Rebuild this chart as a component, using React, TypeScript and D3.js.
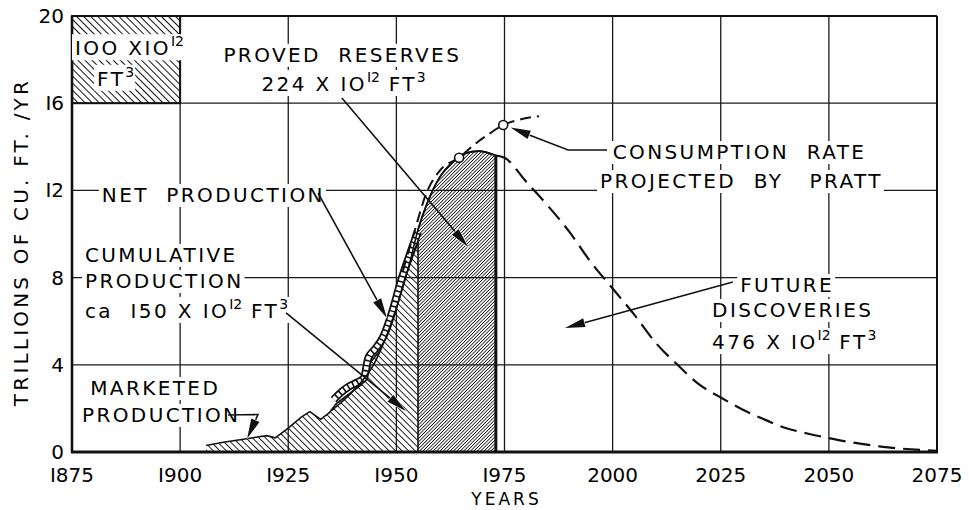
import React, { useEffect, useRef } from 'react'
import * as d3 from 'd3'

const yearTicks = [1875, 1900, 1925, 1950, 1975, 2000, 2025, 2050, 2075]
const rateTicks = [0, 4, 8, 12, 16, 20]

// marketed production (hatched area, jagged hand drawn outline)
const marketedYears = [1906, 1910, 1915, 1920, 1922, 1925, 1928, 1930, 1932.5, 1934.5, 1936, 1938, 1940, 1942, 1944, 1946, 1948, 1950, 1952, 1954, 1955]
const marketedRates = [0.3, 0.45, 0.6, 0.75, 0.65, 1.1, 1.6, 1.85, 1.5, 1.8, 2.2, 2.5, 2.8, 3.1, 4.1, 4.6, 5.6, 6.8, 8.0, 9.1, 9.6]

// net production (the scalloped "tube")
const netYears = [1935.5, 1937, 1939, 1941, 1942.5, 1943.5, 1945, 1947, 1949, 1951, 1953, 1955]
const netRates = [2.4, 2.7, 3.0, 3.2, 3.4, 4.3, 4.7, 5.3, 6.4, 7.8, 9.0, 10.1]

// complete cycle curve
const cycleYears = [1935, 1940, 1945, 1950, 1953, 1955, 1957.5, 1960, 1963, 1966, 1969, 1973, 1975, 1980, 1985, 1990, 1995, 2000, 2005, 2010, 2015, 2020, 2025, 2030, 2035, 2040, 2045, 2050, 2055, 2062, 2075]
const cycleRates = [1.9, 2.8, 4.1, 6.6, 8.6, 10.2, 11.6, 12.6, 13.3, 13.7, 13.8, 13.6, 13.5, 12.4, 11.3, 10.1, 8.7, 7.5, 6.3, 5.0, 4.0, 3.1, 2.5, 1.95, 1.5, 1.1, 0.85, 0.64, 0.45, 0.25, 0.05]
const provedYears = [1955, 1973]

// consumption rate projected by Pratt
const prattYears = [1951.5, 1954, 1957, 1960, 1964.5, 1968, 1971.5, 1974.7, 1978.5, 1983]
const prattRates = [8.3, 10.0, 11.9, 12.9, 13.5, 14.1, 14.6, 15.0, 15.25, 15.4]
const prattPointYears = [1964.5, 1974.7]
const prattPointRates = [13.5, 15.0]

// early-period box
const boxYears = [1875, 1900]
const boxRates = [16, 20]

// text lines: [year, rate, anchor, parts] ; '^' marks a superscript
const labels = [
    [1875.7, 18.2, 'start', ['IOO XIO', '^I2']],
    [1880.8, 16.8, 'start', ['FT', '^3']],
    [1937.5, 17.9, 'middle', ['PROVED  RESERVES']],
    [1937.8, 16.56, 'middle', ['224 X IO', '^I2', ' FT', '^3']],
    [1881.9, 11.47, 'start', ['NET  PRODUCTION']],
    [1878, 8.72, 'start', ['CUMULATIVE']],
    [1878, 7.52, 'start', ['PRODUCTION']],
    [1878, 6.15, 'start', ['ca  I50 X IO', '^I2', ' FT', '^3']],
    [1879.2, 2.61, 'start', ['MARKETED']],
    [1877.3, 1.38, 'start', ['PRODUCTION']],
    [2000, 13.44, 'start', ['CONSUMPTION  RATE']],
    [1997.1, 12.11, 'start', ['PROJECTED  BY   PRATT']],
    [2029.5, 7.34, 'start', ['FUTURE']],
    [2023, 6.19, 'start', ['DISCOVERIES']],
    [2023, 4.72, 'start', ['476 X IO', '^I2', ' FT', '^3']],
]

// leader lines, last point is the arrow tip
const arrows = [
    [[1937.4, 16.24], [1966.6, 9.4]],
    [[1931.9, 11.88], [1947.8, 6.15]],
    [[1924.5, 6.38], [1952.2, 1.88]],
    [[1911.1, 1.7], [1918, 1.72], [1915.5, 0.62]],
    [[1998.7, 13.85], [1989.7, 13.85], [1976.4, 14.88]],
    [[2027.8, 7.8], [1989.0, 5.69]],
]

const W = 969
const H = 510
const FONT = 'DejaVu Sans, sans-serif'

const App = () => {
    const Chart = useRef()

    useEffect(() => {
        const svg = d3.select(Chart.current)
        svg.selectAll('*').remove()

        const x = d3.scaleLinear().domain([1875, 2075]).range([72, 937])
        const y = d3.scaleLinear().domain([0, 20]).range([452, 16])

        const defs = svg.append('defs')
        const hatch = (id, size, width, angle) => {
            const p = defs.append('pattern')
                .attr('id', id)
                .attr('patternUnits', 'userSpaceOnUse')
                .attr('width', size)
                .attr('height', 20)
                .attr('patternTransform', `rotate(${angle})`)
            p.append('line')
                .attr('x1', size / 2).attr('x2', size / 2)
                .attr('y1', 0).attr('y2', 20)
                .attr('stroke', '#111')
                .attr('stroke-width', width)
                .attr('shape-rendering', 'crispEdges')
        }
        hatch('back', 4.6, 1.5, -45)
        hatch('box', 5, 1.4, -45)
        hatch('fwd', 2.4, 1.0, 45)

        // grid
        const grid = svg.append('g').attr('stroke', '#1a1a1a').attr('stroke-width', 1.3)
        grid.selectAll('.v')
            .data(yearTicks.slice(1, -1))
            .join('line')
            .attr('x1', d => x(d)).attr('x2', d => x(d))
            .attr('y1', y(0)).attr('y2', y(20))
        grid.selectAll('.h')
            .data(rateTicks.slice(1, -1))
            .join('line')
            .attr('y1', d => y(d)).attr('y2', d => y(d))
            .attr('x1', x(1875)).attr('x2', x(2075))

        // early box
        svg.append('rect')
            .attr('x', x(boxYears[0]))
            .attr('y', y(boxRates[1]))
            .attr('width', x(boxYears[1]) - x(boxYears[0]))
            .attr('height', y(boxRates[0]) - y(boxRates[1]))
            .attr('fill', 'url(#box)')
            .attr('stroke', '#111')
            .attr('stroke-width', 2)

        // marketed production area
        const marketed = marketedYears.map((d, i) => [d, marketedRates[i]])
        const area = d3.area().x(d => x(d[0])).y0(y(0)).y1(d => y(d[1]))
        svg.append('path')
            .attr('d', area(marketed))
            .attr('fill', 'url(#back)')
        svg.append('path')
            .attr('d', d3.line().x(d => x(d[0])).y(d => y(d[1]))(marketed))
            .attr('fill', 'none')
            .attr('stroke', '#111')
            .attr('stroke-width', 1.6)

        // proved reserves area
        const cycle = cycleYears.map((d, i) => [d, cycleRates[i]])
        const proved = cycle.filter(d => d[0] >= provedYears[0] && d[0] <= provedYears[1])
        const smoothArea = d3.area().x(d => x(d[0])).y0(y(0)).y1(d => y(d[1])).curve(d3.curveMonotoneX)
        svg.append('path')
            .attr('d', smoothArea(proved))
            .attr('fill', 'url(#fwd)')
            .attr('stroke', '#111')
            .attr('stroke-width', 1.6)
        svg.append('line')
            .attr('x1', x(provedYears[1])).attr('x2', x(provedYears[1]))
            .attr('y1', y(0)).attr('y2', y(proved[proved.length - 1][1]))
            .attr('stroke', '#111').attr('stroke-width', 3)

        // net production tube
        const net = netYears.map((d, i) => [d, netRates[i]])
        const netLine = d3.line().x(d => x(d[0])).y(d => y(d[1])).curve(d3.curveMonotoneX)
        svg.append('path').attr('d', netLine(net))
            .attr('fill', 'none').attr('stroke', '#111').attr('stroke-width', 8)
        svg.append('path').attr('d', netLine(net))
            .attr('fill', 'none').attr('stroke', '#fff').attr('stroke-width', 4.5)
            .attr('stroke-dasharray', '3.5,1.6')

        // complete cycle curve: solid through 1973, dashed afterwards
        const curveLine = d3.line().x(d => x(d[0])).y(d => y(d[1])).curve(d3.curveMonotoneX)
        svg.append('path')
            .attr('d', curveLine(cycle.filter(d => d[0] <= provedYears[1])))
            .attr('fill', 'none').attr('stroke', '#111').attr('stroke-width', 1.6)
        svg.append('path')
            .attr('d', curveLine(cycle.filter(d => d[0] >= provedYears[1])))
            .attr('fill', 'none').attr('stroke', '#111').attr('stroke-width', 2.2)
            .attr('stroke-dasharray', '17,8')

        // Pratt projection
        const pratt = prattYears.map((d, i) => [d, prattRates[i]])
        svg.append('path')
            .attr('d', d3.line().x(d => x(d[0])).y(d => y(d[1])).curve(d3.curveMonotoneX)(pratt))
            .attr('fill', 'none').attr('stroke', '#111').attr('stroke-width', 2)
            .attr('stroke-dasharray', '11,6')
        svg.append('g')
            .selectAll('circle')
            .data(prattPointYears)
            .join('circle')
            .attr('cx', d => x(d))
            .attr('cy', (d, i) => y(prattPointRates[i]))
            .attr('r', 4.5)
            .attr('fill', '#fff').attr('stroke', '#111').attr('stroke-width', 1.6)

        // frame
        const frame = svg.append('g').attr('fill', 'none').attr('stroke', '#111')
        frame.append('line').attr('x1', x(1875)).attr('x2', x(2075)).attr('y1', y(20)).attr('y2', y(20)).attr('stroke-width', 2)
        frame.append('line').attr('x1', x(2075)).attr('x2', x(2075)).attr('y1', y(20)).attr('y2', y(0)).attr('stroke-width', 2)
        frame.append('line').attr('x1', x(1875)).attr('x2', x(1875)).attr('y1', y(20)).attr('y2', y(0)).attr('stroke-width', 2.6)
        frame.append('line').attr('x1', x(1875) - 1).attr('x2', x(2075) + 1).attr('y1', y(0)).attr('y2', y(0)).attr('stroke-width', 3)

        // tick labels
        svg.append('g')
            .selectAll('text')
            .data(yearTicks)
            .join('text')
            .attr('x', d => x(d))
            .attr('y', y(0) + 30)
            .attr('text-anchor', 'middle')
            .style('font-family', FONT)
            .style('font-size', '20px')
            .text(d => String(d).replace(/1/g, 'I'))
        svg.append('g')
            .selectAll('text')
            .data(rateTicks)
            .join('text')
            .attr('x', x(1875) - 8)
            .attr('y', d => y(d) + 7)
            .attr('text-anchor', 'end')
            .style('font-family', FONT)
            .style('font-size', '20px')
            .text(d => String(d).replace(/1/g, 'I'))

        svg.append('text')
            .attr('transform', `translate(28, ${(y(0) + y(20)) / 2 + 8}) rotate(-90)`)
            .attr('text-anchor', 'middle')
            .style('font-family', FONT)
            .style('font-size', '20px')
            .style('letter-spacing', '3.2px')
            .text('TRILLIONS OF CU. FT. /YR')
        svg.append('text')
            .attr('x', x(1975) + 2)
            .attr('y', 505)
            .attr('text-anchor', 'middle')
            .style('font-family', FONT)
            .style('font-size', '17px')
            .style('letter-spacing', '3px')
            .text('YEARS')

        // annotation text with white knock-out behind each line
        const notes = svg.append('g')
        labels.forEach(([yr, rate, anchor, parts]) => {
            const t = notes.append('text')
                .attr('x', x(yr))
                .attr('y', y(rate))
                .attr('text-anchor', anchor)
                .style('font-family', FONT)
                .style('font-size', '20px')
                .style('letter-spacing', '2.4px')
                .style('white-space', 'pre')
            let up = false
            parts.forEach(p => {
                const sup = p.startsWith('^')
                const s = t.append('tspan').text(sup ? p.slice(1) : p)
                if (sup) {
                    s.attr('dy', -9).style('font-size', '14px').style('letter-spacing', '0px')
                    up = true
                } else if (up) {
                    s.attr('dy', 9)
                    up = false
                }
            })
            const b = t.node().getBBox()
            notes.insert('rect', () => t.node())
                .attr('x', b.x - 3)
                .attr('y', b.y + 1)
                .attr('width', b.width + 4)
                .attr('height', b.height - 1)
                .attr('fill', '#fff')
        })

        // arrows
        const ag = svg.append('g')
        arrows.forEach(pts => {
            const p = pts.map(d => [x(d[0]), y(d[1])])
            const [tx, ty] = p[p.length - 1]
            const [sx, sy] = p[p.length - 2]
            const a = Math.atan2(ty - sy, tx - sx)
            const len = 20
            const hw = 4.5
            const bx = tx - len * Math.cos(a)
            const by = ty - len * Math.sin(a)
            const shaft = p.slice(0, -1).concat([[bx, by]])
            ag.append('path')
                .attr('d', d3.line()(shaft))
                .attr('fill', 'none').attr('stroke', '#111').attr('stroke-width', 1.6)
            ag.append('path')
                .attr('d', d3.line()([
                    [tx, ty],
                    [bx - hw * Math.sin(a), by + hw * Math.cos(a)],
                    [bx + hw * Math.sin(a), by - hw * Math.cos(a)],
                ]) + 'Z')
                .attr('fill', '#111').attr('stroke', '#fff').attr('stroke-width', 1.2)
                .attr('paint-order', 'stroke')
        })
    })

    return (
        <div style={{ position: 'absolute', left: 0, top: 0 }}>
            <svg ref={Chart} width={W} height={H} style={{ display: 'block', background: '#fff' }}></svg>
        </div>
    )
}

export default App
